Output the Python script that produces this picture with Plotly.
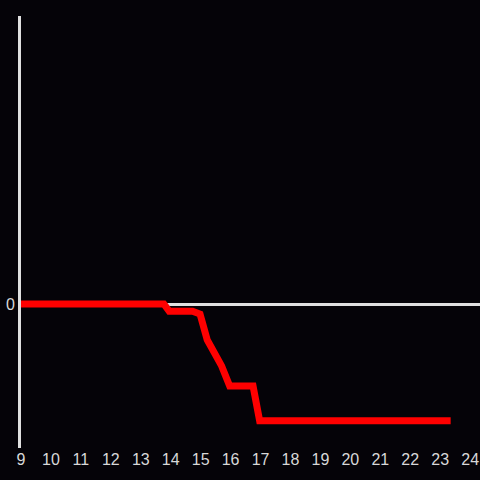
import plotly.graph_objects as go

x_vals = [9, 13.77, 13.95, 14.73, 14.98, 15.22, 15.7, 15.97, 16.75, 16.97, 23.35]
y_vals = [0, 0, -0.25, -0.25, -0.35, -1.25, -2.15, -2.85, -2.85, -4.05, -4.05]
x_ticks = list(range(9, 25))

fig = go.Figure()
fig.add_trace(go.Scatter(x=x_vals, y=y_vals, mode="lines",
                         line=dict(color="#ff0000", width=7), showlegend=False,
                         hoverinfo="skip"))

fig.update_layout(
    width=480, height=480,
    paper_bgcolor="#050308", plot_bgcolor="#050308",
    margin=dict(l=21, r=0, t=16, b=32),
    font=dict(family="Liberation Sans, Arial, sans-serif", size=16, color="#d8d8d8"),
    xaxis=dict(range=[9, 24.33], tickvals=x_ticks, ticktext=[str(t) for t in x_ticks],
               showgrid=False, zeroline=False, showline=False, ticks="",
               tickfont=dict(size=16, color="#d8d8d8")),
    yaxis=dict(range=[-5, 10], tickvals=[0], ticktext=["0"], showgrid=False,
               zeroline=True, zerolinecolor="#e0e0e0", zerolinewidth=3,
               showline=True, linecolor="#e0e0e0", linewidth=3, ticks="",
               tickfont=dict(size=16, color="#d8d8d8")),
)

fig.write_html("out.html", config={"displayModeBar": False},
               post_script="document.body.style.margin='0';document.body.style.overflow='hidden';document.body.style.background='#050308';")
